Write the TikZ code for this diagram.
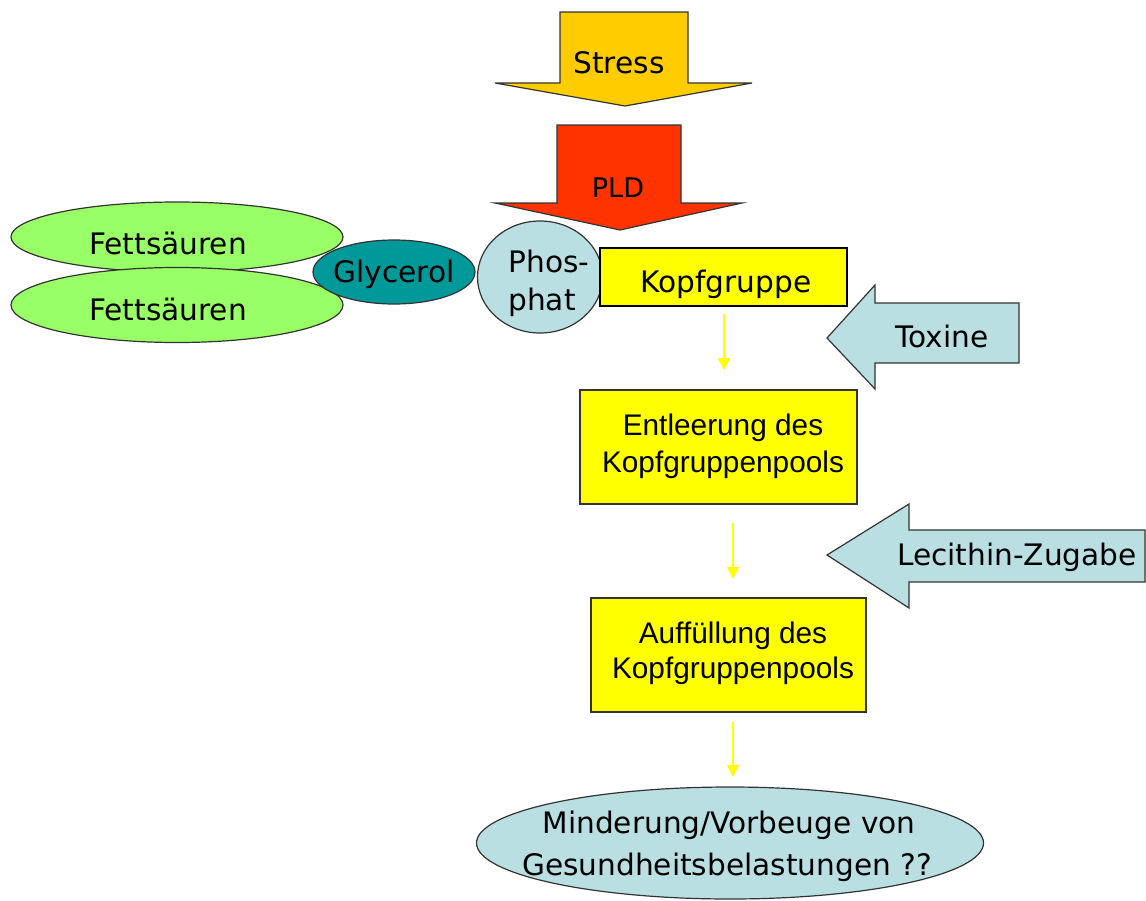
\documentclass[tikz,border=0pt]{standalone}
\usepackage{fontspec}
\setmainfont{DejaVu Sans}
\newfontfamily\arialf{Liberation Sans}
\usetikzlibrary{arrows.meta,shapes.geometric}
\definecolor{stressc}{HTML}{FFCC00}
\definecolor{pldc}{HTML}{FF3300}
\definecolor{fatc}{HTML}{99FF66}
\definecolor{glyc}{HTML}{009999}
\definecolor{lblue}{HTML}{B9DFE3}
\definecolor{yel}{HTML}{FFFF00}
\definecolor{edge}{HTML}{333333}
\tikzset{
  shp/.style={draw=edge, line width=0.6pt},
  ell/.style={shp, ellipse, inner sep=0pt},
  boxy/.style={shp, rectangle, inner sep=0pt, fill=yel},
  txt/.style={anchor=base, inner sep=0pt, font=\fontsize{14.8pt}{17pt}\selectfont},
  atxt/.style={anchor=base, inner sep=0pt, font=\arialf\fontsize{14.9pt}{17pt}\selectfont},
  flow/.style={draw=yel, line width=0.8pt, -{Triangle[width=6pt,length=6pt]}},
}
\begin{document}
\begin{tikzpicture}[x=0.5pt,y=-0.5pt]
\useasboundingbox (0,0) rectangle (1146,900);
% Stress arrow
\draw[shp, fill=stressc] (560,12) -- (688,12) -- (688,83) -- (752,83) -- (625,106) -- (495,83) -- (560,83) -- cycle;
\node[txt] (stress) at (619,73) {Stress};
% PLD arrow
\draw[shp, fill=pldc] (557,125) -- (681,125) -- (681,203) -- (742,203) -- (620,230) -- (495,203) -- (557,203) -- cycle;
\node[txt, font=\fontsize{13.5pt}{16pt}\selectfont] (pld) at (618,197) {PLD};
% Fatty acids, glycerol, phosphate
\node[ell, fill=fatc, minimum width=166pt, minimum height=35pt] (f1) at (177,237) {};
\node[ell, fill=fatc, minimum width=166pt, minimum height=37.5pt] (f2) at (177,305) {};
\node[ell, fill=glyc, minimum width=81pt, minimum height=32pt] (gly) at (394,272) {};
\node[ell, fill=lblue, minimum width=62.5pt, minimum height=56pt] (phos) at (540,277) {};
\node[boxy, draw=black, minimum width=123.5pt, minimum height=29pt] (kopf) at (723.5,277) {};
\node[txt] (f1t) at (168,254) {Fettsäuren};
\node[txt] (f2t) at (168,320) {Fettsäuren};
\node[txt] (glyt) at (394,282) {Glycerol};
\node[txt, anchor=base west] (phost) at (508,272) {Phos-};
\node[txt, anchor=base west] (phatt) at (508,310) {phat};
\node[txt] (kopft) at (726,292) {Kopfgruppe};
% Toxine arrow
\draw[shp, fill=lblue] (1019,303) -- (875,303) -- (875,285) -- (827,338) -- (875,389) -- (875,363) -- (1019,363) -- cycle;
\node[txt] (tox) at (942,347) {Toxine};
% Entleerung box
\node[boxy, minimum width=138.5pt, minimum height=57pt] (entl) at (718.5,447) {};
\node[atxt] (entl1) at (723,435) {Entleerung des};
\node[atxt] (entl2) at (723,472) {Kopfgruppenpools};
% Lecithin arrow
\draw[shp, fill=lblue] (1145,530) -- (909,530) -- (909,504) -- (827,555) -- (909,608) -- (909,582) -- (1145,582) -- cycle;
\node[txt] (lec) at (1017,565) {Lecithin-Zugabe};
% Auffuellung box
\node[boxy, minimum width=137.5pt, minimum height=57pt] (auff) at (728.5,655) {};
\node[atxt] (auff1) at (733,643) {Auffüllung des};
\node[atxt] (auff2) at (733,678) {Kopfgruppenpools};
% Outcome ellipse
\node[ell, fill=lblue, minimum width=253.5pt, minimum height=56pt] (mind) at (730,843) {};
\node[txt] (mind1) at (729,833) {Minderung/Vorbeuge von};
\node[txt] (mind2) at (727,875) {Gesundheitsbelastungen ??};
% yellow connectors
\coordinate (a1s) at (724,314); \coordinate (a1e) at (724,370);
\coordinate (a2s) at (733,523); \coordinate (a2e) at (733,579);
\coordinate (a3s) at (733,722); \coordinate (a3e) at (733,777);
\draw[flow] (a1s) -- (a1e);
\draw[flow] (a2s) -- (a2e);
\draw[flow] (a3s) -- (a3e);
\end{tikzpicture}
\end{document}
